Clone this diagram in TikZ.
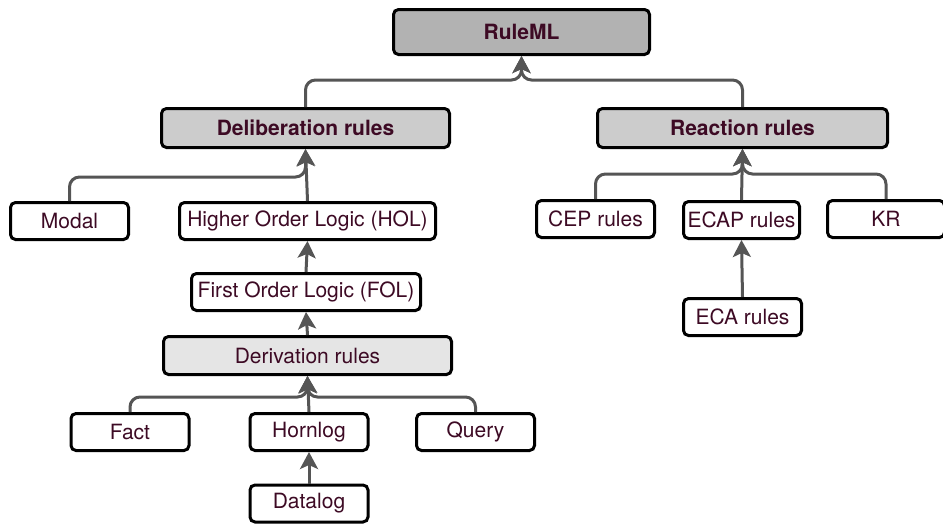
\documentclass[tikz,border=0pt]{standalone}
\usepackage{fontspec}
\setmainfont{TeX Gyre Heros}
\usetikzlibrary{arrows.meta}

\definecolor{txtred}{HTML}{3D0A24}
\definecolor{linegray}{HTML}{555555}

\begin{document}
\begin{tikzpicture}[x=1pt, y=-1pt,
	box/.style={draw=black, line width=3pt, rounded corners=5pt, fill=white,
		text=txtred, font=\fontsize{21}{23}\selectfont, minimum width=118pt, minimum height=37pt, inner sep=0pt},
	head/.style={box, font=\fontsize{21}{23}\selectfont\bfseries},
	link/.style={draw=linegray, line width=3pt, rounded corners=10pt,
		-{Stealth[length=17pt, width=18pt, inset=4pt]}}]

	\useasboundingbox (0, 0) rectangle (943, 525);

	% Верхний уровень
	\node[head, fill=black!30, minimum width=256pt, minimum height=45pt] (ruleml) at (521.5, 32) {RuleML};
	\node[head, fill=black!20, minimum width=288pt, minimum height=39pt] (delib) at (305.5, 128) {Deliberation rules};
	\node[head, fill=black!20, minimum width=290pt, minimum height=39pt] (react) at (742.5, 128) {Reaction rules};

	% Левая ветка
	\node[box] (modal) at (69.5, 221) {Modal};
	\node[box, minimum width=256pt] (hol) at (307.5, 221) {Higher Order Logic (HOL)};
	\node[box, minimum width=229pt] (fol) at (306, 292) {First Order Logic (FOL)};
	\node[box, fill=black!10, minimum width=288pt, minimum height=38pt] (deriv) at (307.5, 355.5) {Derivation rules};
	\node[box] (fact) at (130, 432) {Fact};
	\node[box] (hornlog) at (309, 432) {Hornlog};
	\node[box] (query) at (475.5, 432) {Query};
	\node[box] (datalog) at (309, 503.5) {Datalog};

	% Правая ветка
	\node[box] (cep) at (595.5, 219) {CEP rules};
	\node[box, minimum width=116pt] (ecap) at (741.5, 220) {ECAP rules};
	\node[box, minimum width=117pt] (kr) at (886, 219) {KR};
	\node[box] (eca) at (742.5, 317) {ECA rules};

	% Уровни развилок
	\coordinate (jtop) at (ruleml.south |- 0, 80);
	\coordinate (jdel) at (delib.south |- 0, 177);
	\coordinate (jrea) at (react.south |- 0, 174);
	\coordinate (jder) at (deriv.south |- 0, 397);

	\draw[link] (delib.north) |- (jtop) -- (ruleml.south);
	\draw[link] (react.north) |- (jtop) -- (ruleml.south);

	\draw[link] (modal.north) |- (jdel) -- (delib.south);
	\draw[link] (hol.north) -- (delib.south);
	\draw[link] (fol.north) -- (hol.south);
	\draw[link] (deriv.north) -- (fol.south);

	\draw[link] (fact.north) |- (jder) -- (deriv.south);
	\draw[link] (query.north) |- (jder) -- (deriv.south);
	\draw[link] (hornlog.north) -- (deriv.south);
	\draw[link] (datalog.north) -- (hornlog.south);

	\draw[link] (cep.north) |- (jrea) -- (react.south);
	\draw[link] (kr.north) |- (jrea) -- (react.south);
	\draw[link] (ecap.north) -- (react.south);
	\draw[link] (eca.north) -- (ecap.south);

\end{tikzpicture}
\end{document}
